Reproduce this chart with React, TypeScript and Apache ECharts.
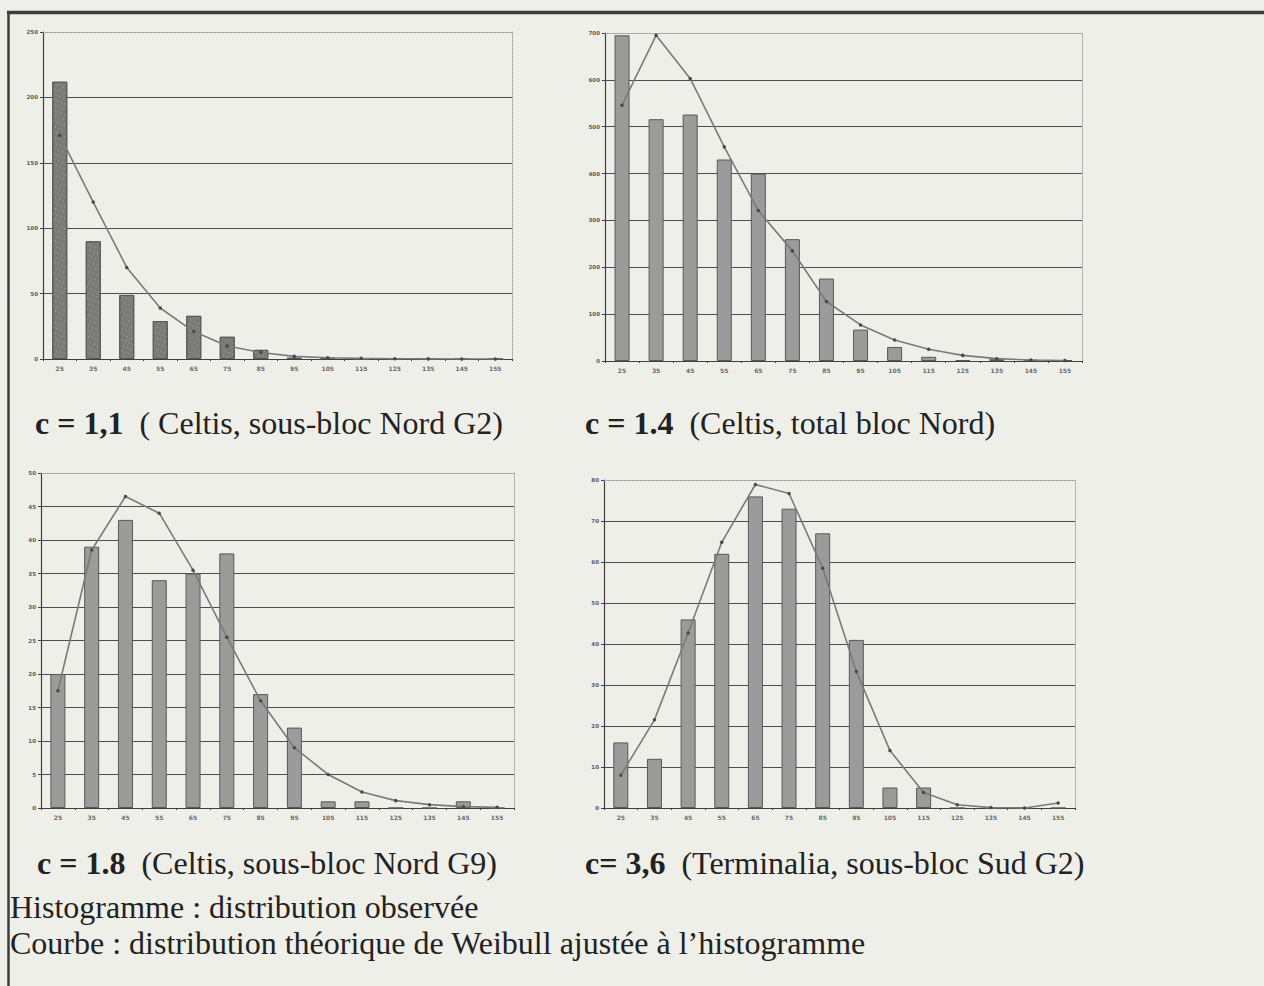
import React, { useEffect, useRef } from 'react';
import * as echarts from 'echarts';

// Diameter classes (cm)
const categories = ['25', '35', '45', '55', '65', '75', '85', '95', '105', '115', '125', '135', '145', '155'];

// Chart 1: c = 1,1 (Celtis, sous-bloc Nord G2)
const observed1 = [212, 90, 49, 29, 33, 17, 7, 1, 1, 0, 0, 0, 0, 0];
const weibull1 = [171, 120, 70, 39, 21, 10, 5, 2, 1, 0.5, 0.2, 0.1, 0, 0];

// Chart 2: c = 1.4 (Celtis, total bloc Nord)
const observed2 = [695, 516, 526, 430, 400, 260, 176, 67, 30, 9, 2, 5, 3, 2];
const weibull2 = [546, 695, 603, 457, 321, 235, 127, 77, 45, 25, 12, 5, 2, 1];

// Chart 3: c = 1.8 (Celtis, sous-bloc Nord G9)
const observed3 = [20, 39, 43, 34, 35, 38, 17, 12, 1, 1, 0, 0, 1, 0];
const weibull3 = [17.5, 38.5, 46.5, 44, 35.5, 25.5, 16, 9, 5, 2.4, 1.1, 0.5, 0.2, 0.1];

// Chart 4: c = 3,6 (Terminalia, sous-bloc Sud G2)
const observed4 = [16, 12, 46, 62, 76, 73, 67, 41, 5, 5, 0, 0, 0, 0];
const weibull4 = [8, 21.5, 42.7, 64.8, 78.9, 76.7, 58.5, 33.3, 14, 3.8, 0.8, 0.1, 0, 1.2];

const yMax = [250, 700, 50, 80];
const yStep = [50, 100, 5, 10];

const captionBold = ['c = 1,1', 'c = 1.4', 'c = 1.8', 'c= 3,6'];
const captionRest = [
  '( Celtis, sous-bloc Nord G2)',
  '(Celtis, total bloc Nord)',
  '(Celtis, sous-bloc Nord G9)',
  '(Terminalia, sous-bloc Sud G2)',
];
const notes = [
  'Histogramme : distribution observée',
  'Courbe : distribution théorique de Weibull ajustée à l’histogramme',
];

const observed = [observed1, observed2, observed3, observed4];
const weibull = [weibull1, weibull2, weibull3, weibull4];

const W = 1264;
const H = 986;
const BG = '#efefea';
const SERIF = '"Liberation Serif", "Times New Roman", serif';

const grids = [
  { left: 43, top: 32, width: 469, height: 327 },
  { left: 605, top: 33, width: 477, height: 328 },
  { left: 41, top: 473, width: 473, height: 335 },
  { left: 604, top: 480, width: 471, height: 328 },
];

const captionPos = [
  { x: 35, y: 423 },
  { x: 585, y: 423 },
  { x: 37, y: 863 },
  { x: 585, y: 863 },
];
const notePos = [
  { x: 10, y: 907 },
  { x: 10, y: 943 },
];

export default function App() {
  const ref = useRef<HTMLDivElement>(null);

  useEffect(() => {
    if (!ref.current) return;
    const chart = echarts.init(ref.current, undefined, { renderer: 'svg' });

    const xAxis: any[] = [];
    const yAxis: any[] = [];
    const series: any[] = [];

    grids.forEach((g, i) => {
      const nLines = yMax[i] / yStep[i] + 1;
      const splitColors: string[] = [];
      for (let k = 0; k < nLines; k++) splitColors.push(k === nLines - 1 ? 'rgba(0,0,0,0)' : '#4d4d4d');

      xAxis.push({
        type: 'category',
        gridIndex: i,
        data: categories,
        position: 'bottom',
        axisLine: { lineStyle: { color: '#3f3f3f', width: 1.2 } },
        axisTick: { show: true, length: 2, lineStyle: { color: '#3f3f3f' } },
        axisLabel: { fontSize: 6, color: '#6a6a6a', margin: 6, fontWeight: 'bold', interval: 0, fontFamily: 'DejaVu Sans' },
        splitLine: { show: false },
      });
      xAxis.push({
        type: 'category',
        gridIndex: i,
        data: categories,
        position: 'top',
        axisLine: { onZero: false, lineStyle: { color: '#9a9a9a', type: 'dotted', width: 1 } },
        axisTick: { show: false },
        axisLabel: { show: false },
        splitLine: { show: false },
      });
      yAxis.push({
        type: 'value',
        gridIndex: i,
        min: 0,
        max: yMax[i],
        interval: yStep[i],
        axisLine: { show: true, lineStyle: { color: '#3f3f3f', width: 1.2 } },
        axisTick: { show: true, length: 3, lineStyle: { color: '#3f3f3f' } },
        axisLabel: { fontSize: 5.5, color: '#5a5a5a', margin: 5, fontWeight: 'bold', fontFamily: 'DejaVu Sans' },
        splitLine: { show: true, lineStyle: { color: splitColors, width: 1 } },
      });
      yAxis.push({
        type: 'value',
        gridIndex: i,
        position: 'right',
        min: 0,
        max: yMax[i],
        interval: yStep[i],
        axisLine: { show: true, onZero: false, lineStyle: { color: '#a5a5a5', type: 'dotted', width: 1 } },
        axisTick: { show: false },
        axisLabel: { show: false },
        splitLine: { show: false },
      });

      series.push({
        type: 'bar',
        name: 'observée ' + (i + 1),
        xAxisIndex: 2 * i,
        yAxisIndex: 2 * i,
        data: observed[i],
        barWidth: 15,
        z: 2,
        itemStyle: {
          color: i === 0 ? '#7a7a7a' : '#9b9b9b',
          borderColor: '#585858',
          borderWidth: 1,
          decal:
            i === 0
              ? {
                  symbol: 'rect',
                  symbolSize: 1,
                  color: 'rgba(255,255,255,0.35)',
                  dashArrayX: [1, 3],
                  dashArrayY: [1, 4],
                  rotation: 0.4,
                }
              : undefined,
        },
      });
      series.push({
        type: 'line',
        name: 'Weibull ' + (i + 1),
        xAxisIndex: 2 * i,
        yAxisIndex: 2 * i,
        data: weibull[i],
        z: 3,
        symbol: 'circle',
        symbolSize: 3.5,
        lineStyle: { color: '#7a7a7a', width: 1.6 },
        itemStyle: { color: '#4a4a4a' },
      });
    });

    const graphic: any[] = [
      { type: 'line', shape: { x1: 7, y1: 12.5, x2: W, y2: 12.5 }, style: { stroke: '#3d3d3d', lineWidth: 3.5 } },
      { type: 'line', shape: { x1: 8.5, y1: 11, x2: 8.5, y2: H }, style: { stroke: '#3d3d3d', lineWidth: 2.5 } },
    ];
    captionPos.forEach((p, i) => {
      graphic.push({
        type: 'text',
        x: p.x,
        y: p.y,
        style: {
          text: '{b|' + captionBold[i] + '}  ' + captionRest[i],
          fontFamily: SERIF,
          fontSize: 32,
          fill: '#222',
          verticalAlign: 'middle',
          rich: { b: { fontWeight: 'bold', fontFamily: SERIF, fontSize: 32, fill: '#222' } },
        },
      });
    });
    notePos.forEach((p, i) => {
      graphic.push({
        type: 'text',
        x: p.x,
        y: p.y,
        style: { text: notes[i], fontFamily: SERIF, fontSize: 32, fill: '#222', verticalAlign: 'middle' },
      });
    });

    chart.setOption({
      animation: false,
      backgroundColor: BG,
      grid: grids.map((g) => ({ ...g, containLabel: false })),
      xAxis,
      yAxis,
      series,
      graphic,
    });

    return () => chart.dispose();
  }, []);

  return (
    <div
      ref={ref}
      style={{ position: 'fixed', left: 0, top: 0, width: W, height: H, background: BG }}
    />
  );
}
